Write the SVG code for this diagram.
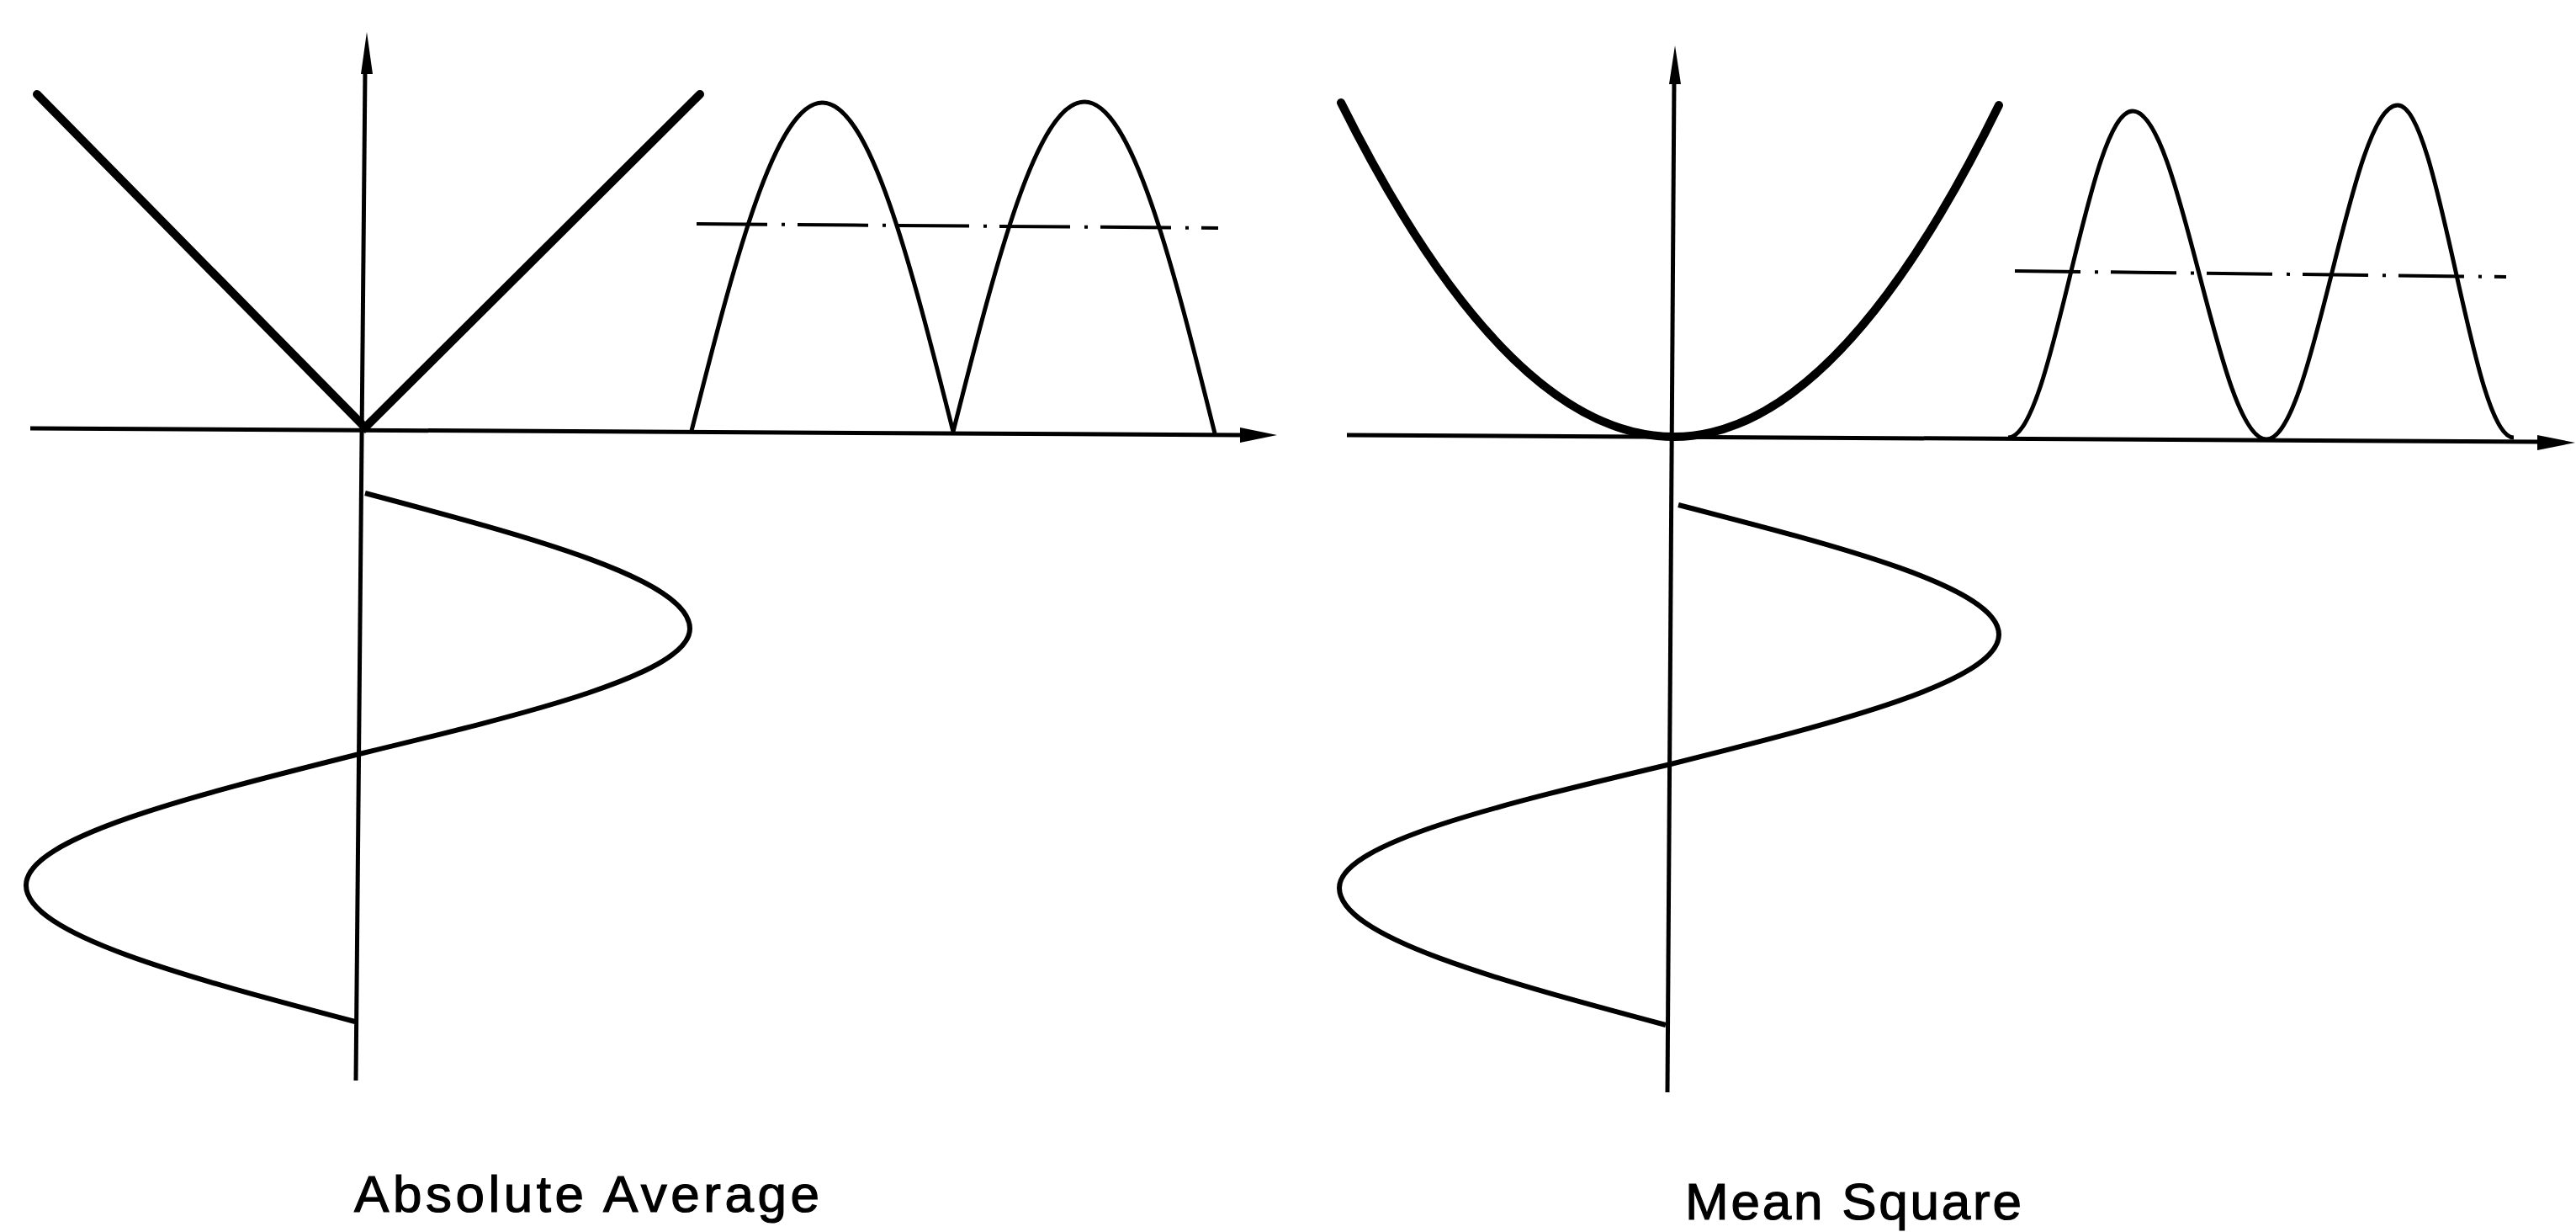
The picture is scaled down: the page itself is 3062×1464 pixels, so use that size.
<svg xmlns="http://www.w3.org/2000/svg" width="3062" height="1464" viewBox="0 0 3062 1464">
<style>
.bg{fill:#ffffff}
.axis{fill:none;stroke:#000;stroke-width:5;stroke-linecap:butt}
.head{fill:#000;stroke:none}
.thick{fill:none;stroke:#000;stroke-width:10;stroke-linejoin:miter;stroke-linecap:round}
.thin{fill:none;stroke:#000;stroke-width:5;stroke-linejoin:round}
.wave{fill:none;stroke:#000;stroke-width:6;stroke-linejoin:round}
.mean{fill:none;stroke:#000;stroke-width:4}
.label{font-family:"Liberation Sans","DejaVu Sans",sans-serif;font-size:62px;fill:#000;stroke:#000;stroke-width:1.2}
</style>
<rect class="bg" x="0" y="0" width="3062" height="1464"/>

<g id="connectors">
  <line class="axis" x1="434" y1="84" x2="423" y2="1284"/>
  <polygon class="head" points="436,38 443,88 429,88"/>
  <line class="axis" x1="36" y1="509" x2="1476" y2="517"/>
  <polygon class="head" points="1518,517 1474,508 1474,526"/>
  <line class="axis" x1="1990" y1="96" x2="1982" y2="1298"/>
  <polygon class="head" points="1991,54 1998,100 1984,100"/>
  <line class="axis" x1="1601" y1="517" x2="3018" y2="525"/>
  <polygon class="head" points="3061,526 3016,517 3016,535"/>
</g>

<g id="absolute-characteristic">
  <polyline class="thick" points="44,112 434,508 832,112"/>
</g>

<g id="rectified-wave">
  <path class="thin" d="M822,512 C872.7,312.2 921.2,122 977.5,122 C1033.8,122 1082.3,312.7 1133,513 C1183.7,313.2 1232.2,121 1289,121 C1345.3,121 1393.8,314 1444,515"/>
</g>

<g id="absolute-mean-line">
  <line class="mean" x1="828" y1="266" x2="1448" y2="271" stroke-dasharray="84 17 4 15"/>
</g>

<g id="left-input-wave">
  <path class="wave" d="M434,586 C631.8,638.5 820,688.7 820,747 C820,800.9 628.3,847.4 427,896 C224.1,946.9 31,995.5 31,1052 C31,1110.6 221.7,1161.2 422,1214"/>
</g>

<g id="square-characteristic">
  <path class="thick" d="M1594,122 Q1792,519 1990,519 Q2183,519 2376,125"/>
</g>

<g id="squared-wave">
  <path class="thin" d="M2387,520 C2413.8,520 2436.9,425.4 2461,326 C2485.1,226.6 2508.2,132 2535,132 C2563.8,132 2588.6,227.1 2614.5,327 C2640.4,426.9 2665.2,522 2694,522 C2722.2,522 2746.6,425.2 2772,323.5 C2797.4,221.8 2821.8,125 2850,125 C2875,125 2896.5,221.3 2919,322.5 C2941.5,423.7 2963,520 2988,520"/>
</g>

<g id="mean-square-line">
  <line class="mean" x1="2395" y1="322" x2="2979" y2="329" stroke-dasharray="78 17 4 15"/>
</g>

<g id="right-input-wave">
  <path class="wave" d="M1995,600 C2190.2,650.2 2376,698.3 2376,754 C2376,809.7 2185.8,857.8 1986,908 C1784.2,955.9 1592,1001.8 1592,1055 C1592,1114 1781.2,1164.8 1980,1218"/>
</g>

<g id="label-absolute-average">
  <text class="label" x="421" y="1440" textLength="553" lengthAdjust="spacing">Absolute  Average</text>
</g>
<g id="label-mean-square">
  <text class="label" x="2003" y="1449" textLength="400" lengthAdjust="spacing">Mean Square</text>
</g>
</svg>
